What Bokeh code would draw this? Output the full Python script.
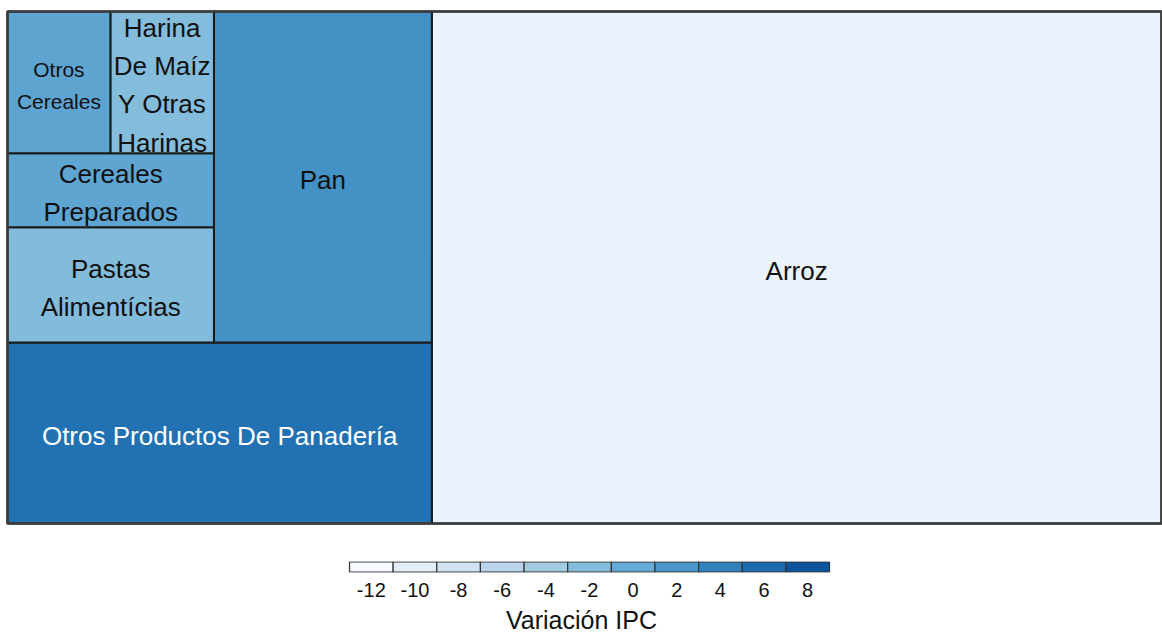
import numpy as np
from bokeh.plotting import figure
from bokeh.models import Range1d, LinearColorMapper, ColumnDataSource, FixedTicker
from bokeh.layouts import column
from bokeh.core.properties import value
from bokeh.embed import file_html
from bokeh.resources import INLINE

# ---------------- data ----------------
categories = ["Arroz", "Otros Productos De Panadería", "Pan", "Pastas Alimentícias",
              "Cereales Preparados", "Harina De Maíz Y Otras Harinas", "Otros Cereales"]
weights = [37.4, 7.69, 7.22, 2.38, 1.53, 1.47, 1.46]          # tile size
ipc_variation = [-10.6, 5.4, 2.6, -1.9, 0.5, -2.0, 0.6]        # colour value

legend_values = [-12, -10, -8, -6, -4, -2, 0, 2, 4, 6, 8]
legend_labels = ["-12", "-10", "-8", "-6", "-4", "-2", "0", "2", "4", "6", "8"]
legend_title = "Variación IPC"

# palette anchors (colour at each legend value)
anchor_colors = ["#F7FBFF", "#E3EEF9", "#D0E2F3", "#BBD6EC", "#A2CBE3", "#85BCDB",
                 "#65AAD4", "#4A97C9", "#3181BD", "#1C6AAF", "#0B559F"]

FONT = "Liberation Sans"


def hex2rgb(h):
    h = h.lstrip("#")
    return np.array([int(h[i:i + 2], 16) for i in (0, 2, 4)], dtype=float)


anchors = np.array([hex2rgb(c) for c in anchor_colors])
t = np.linspace(0, 1, 256)
at = np.linspace(0, 1, len(anchor_colors))
palette = ["#%02x%02x%02x" % tuple(int(round(np.interp(tt, at, anchors[:, k]))) for k in range(3))
           for tt in t]
mapper = LinearColorMapper(palette=palette, low=legend_values[0], high=legend_values[-1])


def value_rgb(v):
    f = (v - legend_values[0]) / (legend_values[-1] - legend_values[0])
    f = min(max(f, 0), 1)
    return np.array([np.interp(f, at, anchors[:, k]) for k in range(3)])


# ---------------- treemap layout ----------------
def strip_layout(sizes, x0, y0, w, h):
    rects = []
    remaining = float(sum(sizes))
    for i, s in enumerate(sizes):
        if i == len(sizes) - 1:
            rects.append((x0, y0, w, h))
            break
        frac = s / remaining
        if w >= h:
            sw = w * frac
            rects.append((x0 + w - sw, y0, sw, h))
            w -= sw
        else:
            sh = h * frac
            rects.append((x0, y0 + h - sh, w, sh))
            h -= sh
        remaining -= s
    return rects


def char_w(c):
    if c in "ilíj":
        return 0.222
    if c in "tfrI ":
        return 0.30
    if c in "mMW":
        return 0.833
    if c == "s":
        return 0.5
    if c.isupper():
        return 0.70
    return 0.556


def text_w(s, fs):
    return sum(char_w(c) for c in s) * fs


def wrap(label, fs, max_w):
    words = label.split()
    lines, cur = [], ""
    for wd in words:
        trial = (cur + " " + wd).strip()
        if text_w(trial, fs) <= max_w or not cur:
            cur = trial
        else:
            lines.append(cur)
            cur = wd
    lines.append(cur)
    return lines


W_PLOT, H_MAIN = 1162, 534
TX0, TY0, TW, TH = 7, 11, 1154, 512
BIG_FS, SMALL_FS = 26, 21

order = np.argsort(-np.array(weights), kind="stable")
rects = strip_layout([weights[i] for i in order], TX0, TY0, TW, TH)

left, right, top, bottom, vals = [], [], [], [], []
big = dict(x=[], y=[], text=[], color=[])
small = dict(x=[], y=[], text=[], color=[])
for idx, (x, y, w, h) in zip(order, rects):
    left.append(x); right.append(x + w); top.append(y); bottom.append(y + h)
    vals.append(ipc_variation[idx])
    max_w = w - 4
    fs, d = BIG_FS, big
    if any(text_w(wd, fs) > max_w for wd in categories[idx].split()):
        fs, d = SMALL_FS, small
    lines = wrap(categories[idx], fs, max_w)
    rgb = value_rgb(ipc_variation[idx])
    lum = 0.299 * rgb[0] + 0.587 * rgb[1] + 0.114 * rgb[2]
    d["x"].append(x + w / 2)
    d["y"].append(y + h / 2 + 3)
    d["text"].append("\n".join(lines))
    d["color"].append("#ffffff" if lum < 115 else "#111111")

src = ColumnDataSource(dict(left=left, right=right, top=top, bottom=bottom, val=vals))

p = figure(width=W_PLOT, height=H_MAIN, output_backend="svg", toolbar_location=None,
           x_range=Range1d(0, W_PLOT), y_range=Range1d(H_MAIN, 0),
           min_border=0, min_border_left=0, min_border_right=0, min_border_top=0, min_border_bottom=0)
p.axis.visible = False
p.grid.visible = False
p.outline_line_color = None

p.quad(left="left", right="right", top="top", bottom="bottom", source=src,
       fill_color={"field": "val", "transform": mapper}, line_color="#1a1a1a", line_width=2)
p.quad(left=[TX0], right=[TX0 + TW], top=[TY0], bottom=[TY0 + TH], fill_color=None,
       line_color="#3c3c3c", line_width=2.5)
p.text(x="x", y="y", text="text", source=ColumnDataSource(big), text_font=value(FONT),
       text_font_size="%dpx" % BIG_FS, text_color="color", text_align="center",
       text_baseline="middle", text_line_height=1.27)
p.text(x="x", y="y", text="text", source=ColumnDataSource(small), text_font=value(FONT),
       text_font_size="%dpx" % SMALL_FS, text_color="color", text_align="center",
       text_baseline="middle", text_line_height=1.4)

# ---------------- legend ----------------
H_LEG = 102
box_left_px, box_right_px = 349, 829
k = (box_right_px - box_left_px) / (legend_values[-1] - legend_values[0] + 2)
x_start = legend_values[0] - 1 - box_left_px / k
x_end = x_start + W_PLOT / k

lsrc = ColumnDataSource(dict(x=legend_values, v=legend_values))
p2 = figure(width=W_PLOT, height=H_LEG, output_backend="svg", toolbar_location=None,
            x_range=Range1d(x_start, x_end), y_range=Range1d(-0.04, 1.04),
            min_border_left=0, min_border_right=0, min_border_top=27, min_border_bottom=0)
p2.grid.visible = False
p2.outline_line_color = None
p2.yaxis.visible = False
p2.rect(x="x", y=0.5, width=2, height=1, source=lsrc,
        fill_color={"field": "v", "transform": mapper}, line_color="#333333", line_width=1.2)
ax = p2.xaxis[0]
ax.ticker = FixedTicker(ticks=legend_values)
ax.major_label_overrides = {v: l for v, l in zip(legend_values, legend_labels)}
ax.axis_line_color = None
ax.major_tick_line_color = None
ax.minor_tick_line_color = None
ax.major_label_standoff = 4
ax.major_label_text_font = FONT
ax.major_label_text_font_size = "20px"
ax.major_label_text_color = "#111111"
ax.axis_label = legend_title
ax.axis_label_standoff = 6
ax.axis_label_text_font = FONT
ax.axis_label_text_font_size = "25px"
ax.axis_label_text_font_style = "normal"
ax.axis_label_text_color = "#111111"

layout = column(p, p2, spacing=0)
open("out.html", "w").write(file_html(layout, INLINE))
